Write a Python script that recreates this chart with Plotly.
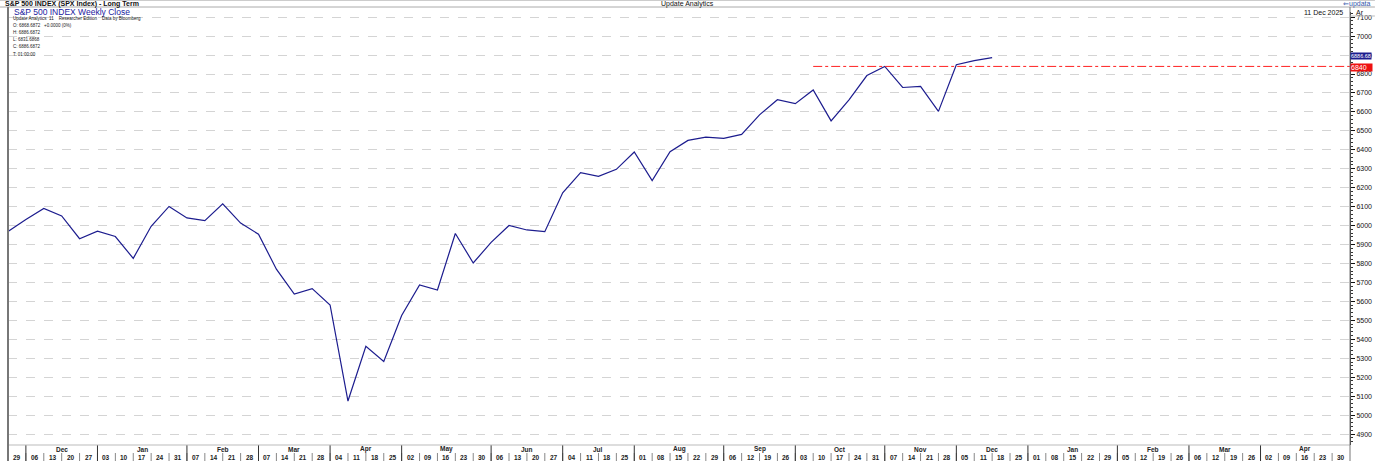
import plotly.graph_objects as go

# ---------------- data ----------------
week_idx = list(range(-1, 55))          # weekly slots (Nov 22 2024 ... Dec 11 2025)
closes = [5969.34, 6032.38, 6090.27, 6051.09, 5930.85, 5970.84, 5942.47, 5827.04,
          5996.66, 6101.24, 6040.53, 6025.99, 6114.63, 6013.13, 5954.50, 5770.20,
          5638.94, 5667.56, 5580.94, 5074.08, 5363.36, 5282.70, 5525.21, 5686.67,
          5659.91, 5958.38, 5802.82, 5911.69, 6000.36, 5976.97, 5967.84, 6173.07,
          6279.35, 6259.75, 6296.79, 6388.64, 6238.01, 6389.45, 6449.80, 6466.91,
          6460.26, 6481.50, 6584.29, 6664.36, 6643.70, 6715.79, 6552.51, 6664.01,
          6791.69, 6840.20, 6728.80, 6734.11, 6602.99, 6849.09, 6870.40, 6886.68]
red_level = 6840
red_start = 44
last_value = 6886.68

day_labels = ["29", "06", "13", "20", "27", "03", "10", "17", "24", "31",
              "07", "14", "21", "28", "07", "14", "21", "28", "04", "11",
              "18", "25", "02", "09", "16", "23", "30", "06", "13", "20",
              "27", "04", "11", "18", "25", "01", "08", "15", "22", "29",
              "06", "12", "19", "26", "03", "10", "17", "24", "31", "07",
              "14", "21", "28", "05", "11", "18", "25", "01", "08", "15",
              "22", "29", "05", "12", "19", "26", "06", "12", "19", "26",
              "02", "09", "16", "23", "30"]
month_names = ["Dec", "Jan", "Feb", "Mar", "Apr", "May", "Jun", "Jul", "Aug",
               "Sep", "Oct", "Nov", "Dec", "Jan", "Feb", "Mar", "Apr"]
month_first = [1, 5, 10, 14, 18, 22, 27, 31, 35, 40, 44, 49, 53, 57, 62, 66, 70]
month_last = [4, 9, 13, 17, 21, 26, 30, 34, 39, 43, 48, 52, 56, 61, 65, 69, 74]

y_ticks = list(range(4900, 7101, 100))

# ---------------- geometry helpers ----------------
W, H = 1380, 461
ML, MR, MT, MB = 8, 25, 12, 16
PH = H - MT - MB


def py(p):
    """pixel row -> paper y"""
    return (H - MB - p) / PH


def px(p):
    return (p - ML) / (W - ML - MR)


FONT = "Liberation Sans, Arial, sans-serif"

fig = go.Figure()
fig.add_trace(go.Scatter(x=week_idx, y=closes, mode="lines",
                         line=dict(color="#1c1c8e", width=1.2),
                         hoverinfo="x+y", showlegend=False))
fig.add_trace(go.Scatter(x=[red_start, 74], y=[red_level, red_level], mode="lines",
                         line=dict(color="#ff2020", width=1, dash="dashdot"),
                         hoverinfo="skip", showlegend=False))

shapes = []
annotations = []

# bottom axis: day labels and separators
for i, lab in enumerate(day_labels):
    annotations.append(dict(x=i - 0.5, y=py(457), xref="x", yref="paper", text="<b>" + lab + "</b>",
                            showarrow=False, font=dict(family=FONT, size=6.5, color="#222"),
                            xanchor="center", yanchor="middle"))
    if i >= 1:
        shapes.append(dict(type="line", xref="x", yref="paper", x0=i - 1, x1=i - 1,
                           y0=py(453), y1=py(461), line=dict(color="#888", width=1)))
# month labels and tall separators
for name, s, e in zip(month_names, month_first, month_last):
    annotations.append(dict(x=(s - 1 + e) / 2, y=py(449), xref="x", yref="paper", text="<b>" + name + "</b>",
                            showarrow=False, font=dict(family=FONT, size=6.5, color="#222"),
                            xanchor="center", yanchor="middle"))
    shapes.append(dict(type="line", xref="x", yref="paper", x0=s - 1, x1=s - 1,
                       y0=py(445), y1=py(461), line=dict(color="#333", width=1)))

# frame lines
shapes.append(dict(type="line", xref="paper", yref="paper", x0=0, x1=1, y0=0, y1=0,
                   line=dict(color="#bbb", width=1)))
shapes.append(dict(type="line", xref="paper", yref="paper", x0=px(0), x1=px(W), y0=py(7), y1=py(7),
                   line=dict(color="#aaa", width=1)))
shapes.append(dict(type="line", xref="paper", yref="paper", x0=px(0), x1=px(W), y0=py(0.5), y1=py(0.5),
                   line=dict(color="#ccc", width=1)))
shapes.append(dict(type="line", xref="paper", yref="paper", x0=0, x1=0, y0=py(7), y1=py(461),
                   line=dict(color="#777", width=2)))
shapes.append(dict(type="line", xref="paper", yref="paper", x0=1, x1=1, y0=py(7), y1=py(461),
                   line=dict(color="#777", width=1)))
shapes.append(dict(type="line", xref="paper", yref="paper", x0=1, x1=px(W), y0=py(16), y1=py(16),
                   line=dict(color="#bbb", width=1)))

# header texts
annotations += [
    dict(x=px(3), y=py(4), xref="paper", yref="paper", text="<b>S&P 500 INDEX (SPX Index) - Long Term</b>",
         showarrow=False, xanchor="left", yanchor="middle", font=dict(family=FONT, size=7, color="#111")),
    dict(x=px(690), y=py(4), xref="paper", yref="paper", text="Update Analytics",
         showarrow=False, xanchor="center", yanchor="middle", font=dict(family=FONT, size=7, color="#111")),
    dict(x=px(1378), y=py(3.5), xref="paper", yref="paper", text="⇐updata",
         showarrow=False, xanchor="right", yanchor="middle", font=dict(family=FONT, size=7, color="#3355aa")),
    dict(x=px(1350), y=py(12), xref="paper", yref="paper", text="11 Dec 2025",
         showarrow=False, xanchor="right", yanchor="middle", font=dict(family=FONT, size=7, color="#111")),
    dict(x=px(1359), y=py(12), xref="paper", yref="paper", text="Ar",
         showarrow=False, xanchor="left", yanchor="middle", font=dict(family=FONT, size=7, color="#111")),
    dict(x=px(12), y=py(11.5), xref="paper", yref="paper", text="S&P 500 INDEX Weekly Close",
         showarrow=False, xanchor="left", yanchor="middle", font=dict(family=FONT, size=8.5, color="#1a1aa0")),
    dict(x=px(11), y=py(18), xref="paper", yref="paper",
         text="Update Analytics  11    Researcher Edition    Data by Bloomberg",
         showarrow=False, xanchor="left", yanchor="middle", font=dict(family=FONT, size=4.5, color="#111")),
]
info_lines = ["O: 6868.6872   +0.0000 (0%)", "H: 6886.6872", "L: 6831.6868", "C: 6886.6872", "T: 01:00:00"]
for k, t in enumerate(info_lines):
    annotations.append(dict(x=px(11), y=py(25 + 7.3 * k), xref="paper", yref="paper", text=t,
                            showarrow=False, xanchor="left", yanchor="middle",
                            font=dict(family=FONT, size=4.5, color="#222")))

# price boxes on right axis
annotations += [
    dict(x=1, y=last_value + 6, xref="paper", yref="y", text="6886.68", showarrow=False,
         xanchor="left", yanchor="middle", bgcolor="#1c1c8e", borderpad=0,
         font=dict(family=FONT, size=5.5, color="white")),
    dict(x=1, y=red_level - 6, xref="paper", yref="y", text="6840   ", showarrow=False,
         xanchor="left", yanchor="middle", bgcolor="#ee1111", borderpad=0,
         font=dict(family=FONT, size=7, color="white")),
]

fig.update_layout(
    width=W, height=H,
    margin=dict(l=ML, r=MR, t=MT, b=MB),
    paper_bgcolor="white", plot_bgcolor="white",
    shapes=shapes, annotations=annotations,
    xaxis=dict(range=[-1, 74], showticklabels=False, showgrid=False, zeroline=False,
               ticks="", showline=False, fixedrange=True),
    yaxis=dict(range=[4842.2, 7127.2], side="right", tickvals=y_ticks,
               tickfont=dict(family=FONT, size=7, color="#111"),
               ticks="outside", ticklen=4, tickcolor="#111",
               minor=dict(dtick=20, ticks="outside", ticklen=2, tickcolor="#333", showgrid=False),
               showgrid=True, gridcolor="#d4d4d4", griddash="dash", gridwidth=1,
               showline=True, linecolor="#333", linewidth=1, zeroline=False, fixedrange=True),
)

fig.write_html("out.html", config={"displayModeBar": False},
               post_script="document.body.style.margin='0px';document.body.style.overflow='hidden';")
